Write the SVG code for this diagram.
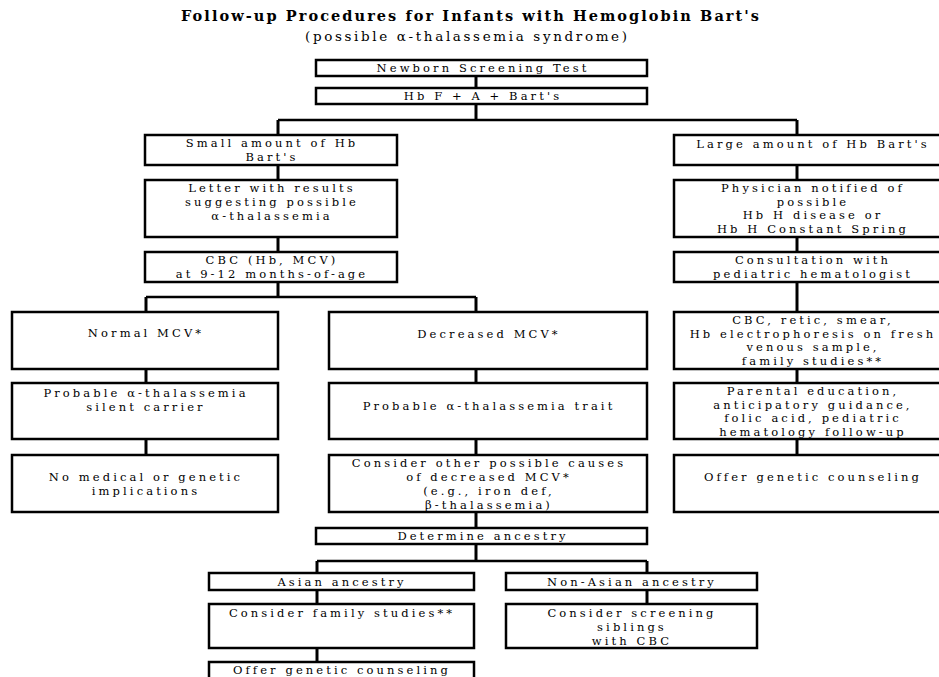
<svg xmlns="http://www.w3.org/2000/svg" width="939" height="677" viewBox="0 0 939 677">
<style>
.bg{fill:#fff}
.box{fill:#fff;stroke:#000;stroke-width:2.5}
.t{font-family:"DejaVu Serif","Liberation Serif",serif;font-size:11.5px;letter-spacing:3.1px;text-anchor:middle;fill:#000}
.title{font-family:"DejaVu Serif","Liberation Serif",serif;font-size:14.5px;font-weight:bold;text-anchor:middle;fill:#000}
.sub{font-family:"DejaVu Serif","Liberation Serif",serif;font-size:13.5px;text-anchor:middle;fill:#000}
.conn line{stroke:#000;stroke-width:3}
.conn .h{stroke-width:2.5}
</style>
<rect class="bg" x="0" y="0" width="939" height="677"/>
<g id="title">
<text class="title" x="470" y="21" textLength="578" lengthAdjust="spacing">Follow-up Procedures for Infants with Hemoglobin Bart's</text>
<text class="sub" x="466" y="41" textLength="322" lengthAdjust="spacing">(possible α-thalassemia syndrome)</text>
</g>
<g class="conn" id="connectors">
<line x1="476" y1="76" x2="476" y2="88"/>
<line x1="476" y1="104" x2="476" y2="121"/>
<line class="h" x1="278" y1="120" x2="797" y2="120"/>
<line x1="278" y1="120" x2="278" y2="135"/>
<line x1="278" y1="165" x2="278" y2="180"/>
<line x1="278" y1="237" x2="278" y2="252"/>
<line x1="278" y1="282" x2="278" y2="298"/>
<line x1="797" y1="120" x2="797" y2="135"/>
<line x1="797" y1="165" x2="797" y2="180"/>
<line x1="797" y1="237" x2="797" y2="252"/>
<line x1="797" y1="282" x2="797" y2="312"/>
<line x1="797" y1="369" x2="797" y2="383"/>
<line x1="797" y1="439" x2="797" y2="455"/>
<line class="h" x1="146" y1="297" x2="476" y2="297"/>
<line x1="146" y1="297" x2="146" y2="312"/>
<line x1="146" y1="369" x2="146" y2="383"/>
<line x1="146" y1="439" x2="146" y2="455"/>
<line x1="476" y1="297" x2="476" y2="312"/>
<line x1="476" y1="369" x2="476" y2="383"/>
<line x1="476" y1="439" x2="476" y2="455"/>
<line x1="476" y1="512" x2="476" y2="528"/>
<line x1="476" y1="544" x2="476" y2="562"/>
<line class="h" x1="317" y1="561" x2="647" y2="561"/>
<line x1="317" y1="561" x2="317" y2="573"/>
<line x1="317" y1="590" x2="317" y2="604"/>
<line x1="317" y1="648" x2="317" y2="662"/>
<line x1="647" y1="561" x2="647" y2="573"/>
<line x1="647" y1="590" x2="647" y2="604"/>
</g>
<g id="newborn"><rect class="box" x="316" y="60" width="331" height="16"/><text class="t" x="483" y="72">Newborn Screening Test</text></g>
<g id="hbf"><rect class="box" x="316" y="88" width="331" height="16"/><text class="t" x="483" y="100">Hb F + A + Bart's</text></g>
<g id="small"><rect class="box" x="145" y="135" width="252" height="30"/><text class="t" x="272" y="147">Small amount of Hb</text><text class="t" x="272" y="161">Bart's</text></g>
<g id="letter"><rect class="box" x="145" y="180" width="252" height="57"/><text class="t" x="272" y="192">Letter with results</text><text class="t" x="272" y="206">suggesting possible</text><text class="t" x="272" y="220">α-thalassemia</text></g>
<g id="cbc"><rect class="box" x="145" y="252" width="252" height="30"/><text class="t" x="272" y="264">CBC (Hb, MCV)</text><text class="t" x="272" y="278">at 9-12 months-of-age</text></g>
<g id="large"><rect class="box" x="674" y="135" width="276" height="30"/><text class="t" x="813" y="148">Large amount of Hb Bart's</text></g>
<g id="physician"><rect class="box" x="674" y="180" width="276" height="57"/><text class="t" x="813" y="192">Physician notified of</text><text class="t" x="813" y="206">possible</text><text class="t" x="813" y="219">Hb H disease or</text><text class="t" x="813" y="233">Hb H Constant Spring</text></g>
<g id="consult"><rect class="box" x="674" y="252" width="276" height="30"/><text class="t" x="813" y="264">Consultation with</text><text class="t" x="813" y="278">pediatric hematologist</text></g>
<g id="cbcretic"><rect class="box" x="674" y="312" width="276" height="57"/><text class="t" x="813" y="324">CBC, retic, smear,</text><text class="t" x="813" y="338">Hb electrophoresis on fresh</text><text class="t" x="813" y="351">venous sample,</text><text class="t" x="813" y="365">family studies**</text></g>
<g id="parental"><rect class="box" x="674" y="383" width="276" height="56"/><text class="t" x="813" y="395">Parental education,</text><text class="t" x="813" y="409">anticipatory guidance,</text><text class="t" x="813" y="422">folic acid, pediatric</text><text class="t" x="813" y="436">hematology follow-up</text></g>
<g id="offer1"><rect class="box" x="674" y="455" width="276" height="57"/><text class="t" x="813" y="481">Offer genetic counseling</text></g>
<g id="normal"><rect class="box" x="12" y="312" width="266" height="57"/><text class="t" x="146" y="337">Normal MCV*</text></g>
<g id="silent"><rect class="box" x="12" y="383" width="266" height="56"/><text class="t" x="146" y="397">Probable α-thalassemia</text><text class="t" x="146" y="411">silent carrier</text></g>
<g id="nomed"><rect class="box" x="12" y="455" width="266" height="57"/><text class="t" x="146" y="481">No medical or genetic</text><text class="t" x="146" y="495">implications</text></g>
<g id="decreased"><rect class="box" x="329" y="312" width="318" height="57"/><text class="t" x="489" y="338">Decreased MCV*</text></g>
<g id="trait"><rect class="box" x="329" y="383" width="318" height="56"/><text class="t" x="489" y="410">Probable α-thalassemia trait</text></g>
<g id="other"><rect class="box" x="329" y="455" width="318" height="57"/><text class="t" x="489" y="467">Consider other possible causes</text><text class="t" x="489" y="481">of decreased MCV*</text><text class="t" x="489" y="495">(e.g., iron def,</text><text class="t" x="489" y="509">β-thalassemia)</text></g>
<g id="determine"><rect class="box" x="316" y="528" width="331" height="16"/><text class="t" x="483" y="540">Determine ancestry</text></g>
<g id="asian"><rect class="box" x="209" y="573" width="265" height="17"/><text class="t" x="342" y="586">Asian ancestry</text></g>
<g id="nonasian"><rect class="box" x="506" y="573" width="251" height="17"/><text class="t" x="632" y="586">Non-Asian ancestry</text></g>
<g id="family"><rect class="box" x="209" y="604" width="265" height="44"/><text class="t" x="342" y="617">Consider family studies**</text></g>
<g id="screening"><rect class="box" x="506" y="604" width="251" height="44"/><text class="t" x="632" y="617">Consider screening</text><text class="t" x="632" y="631">siblings</text><text class="t" x="632" y="645">with CBC</text></g>
<g id="offer2"><rect class="box" x="209" y="662" width="265" height="30"/><text class="t" x="342" y="674">Offer genetic counseling</text></g>
</svg>
